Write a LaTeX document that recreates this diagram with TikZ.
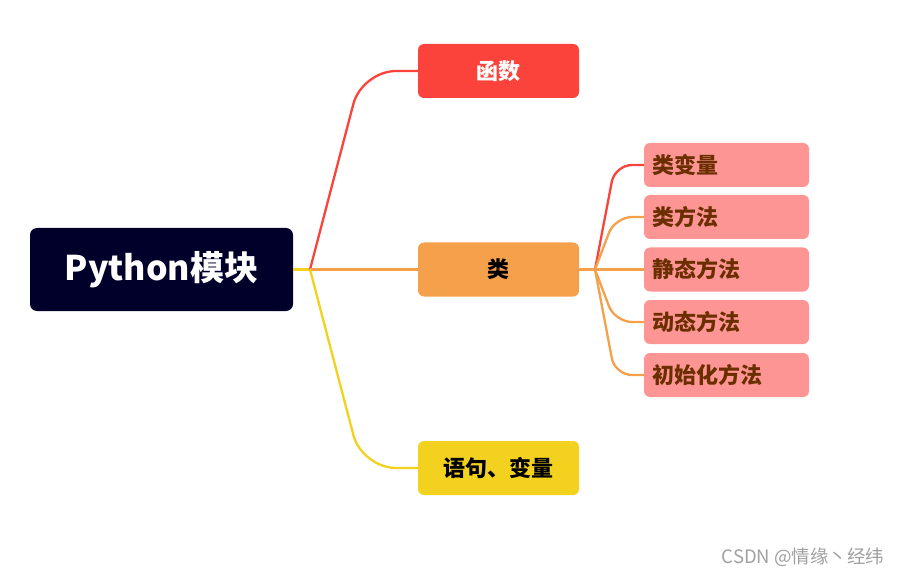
\documentclass[tikz,border=0pt]{standalone}
\usepackage{fontspec}
\setmainfont{Noto Sans CJK SC}
\definecolor{rootc}{HTML}{00002A}
\definecolor{redc}{HTML}{FC433B}
\definecolor{orangec}{HTML}{F5A04B}
\definecolor{yellowc}{HTML}{F2D21F}
\definecolor{subc}{HTML}{FE9595}
\definecolor{subtext}{HTML}{6B2E00}
\definecolor{markc}{HTML}{A0A0A0}
\tikzset{
  mainbox/.style={rounded corners=6pt, minimum width=161pt, minimum height=54pt, inner sep=0pt, font=\fontsize{22}{25}\selectfont\bfseries},
  subbox/.style={rounded corners=6pt, fill=subc, text=subtext, minimum height=44pt, text width=149pt, inner xsep=8pt, inner ysep=0pt, align=left, font=\fontsize{22}{25}\selectfont\bfseries},
  link/.style={line width=2.3pt, rounded corners=34pt},
  sublink/.style={line width=2.3pt, rounded corners=17pt},
}
\begin{document}
\begin{tikzpicture}[x=1pt,y=-1pt]
\useasboundingbox (0,0) rectangle (904,577);
\node[rounded corners=7pt, fill=rootc, text=white, minimum width=263pt, minimum height=83pt, inner sep=0pt, font=\fontsize{34}{37}\selectfont\bfseries] (root) at (161.5,269.5) {Python模块};
\node[mainbox, fill=redc, text=white] (func) at (498.5,71) {函数};
\node[mainbox, fill=orangec, text=black] (cls) at (498.5,269.5) {类};
\node[mainbox, fill=yellowc, text=black] (stmt) at (498.5,468) {语句、变量};
\coordinate (j) at (310,269.5);
\coordinate (k) at (595,269.5);
\node[subbox] (s1) at (726.5,165) {类变量};
\node[subbox] (s2) at (726.5,217) {类方法};
\node[subbox] (s3) at (726.5,269.5) {静态方法};
\node[subbox] (s4) at (726.5,322) {动态方法};
\node[subbox] (s5) at (726.5,375) {初始化方法};
\draw[link, yellowc] (root.east) -- (j);
\draw[link, redc] (j) -- (362,71) -- (func.west);
\draw[link, orangec] (j) -- (cls.west);
\draw[link, yellowc] (j) -- (362,468) -- (stmt.west);
\draw[sublink, orangec] (cls.east) -- (k);
\draw[sublink, redc] (k) -- (615,165) -- (s1.west);
\draw[sublink, orangec] (k) -- (615,217) -- (s2.west);
\draw[sublink, orangec] (k) -- (s3.west);
\draw[sublink, orangec] (k) -- (615,322) -- (s4.west);
\draw[sublink, orangec] (k) -- (615,375) -- (s5.west);
\node[text=markc, font=\fontsize{18.5}{21}\selectfont, inner sep=0pt] (mark) at (803,557) {CSDN @情缘丶经纬};
\end{tikzpicture}
\end{document}
